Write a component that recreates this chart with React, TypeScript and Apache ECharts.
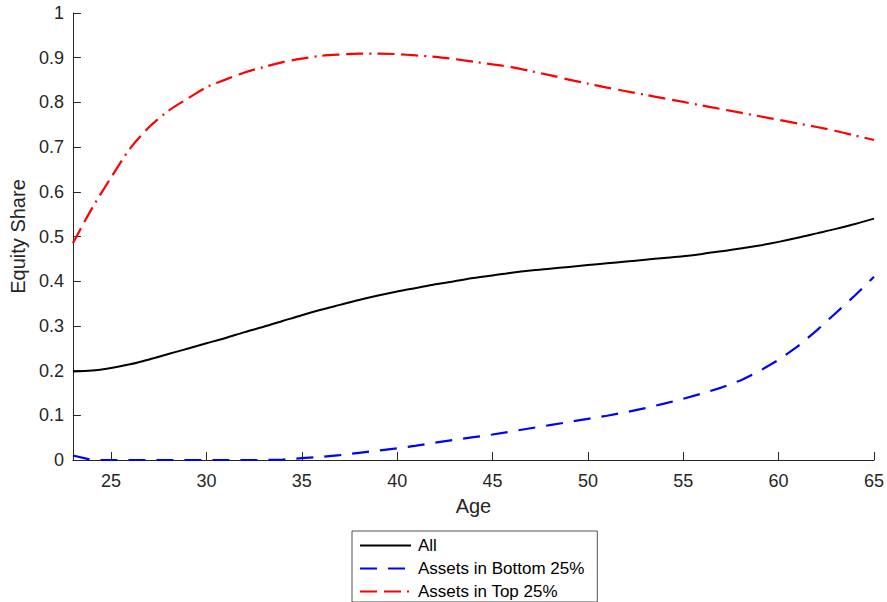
import React, { useEffect, useRef } from 'react';
import * as echarts from 'echarts';

const ages = [
  23, 24, 25, 26, 27, 28, 29, 30, 31, 32, 33, 34, 35, 36, 37, 38, 39, 40, 41, 42, 43, 44,
  45, 46, 47, 48, 49, 50, 51, 52, 53, 54, 55, 56, 57, 58, 59, 60, 61, 62, 63, 64, 65,
];

const allShare = [
  0.198, 0.2, 0.206, 0.214, 0.225, 0.237, 0.249, 0.261, 0.273, 0.286, 0.298, 0.311, 0.324,
  0.336, 0.347, 0.358, 0.368, 0.377, 0.385, 0.393, 0.4, 0.407, 0.413, 0.419, 0.424, 0.428,
  0.432, 0.436, 0.44, 0.444, 0.448, 0.452, 0.456, 0.461, 0.467, 0.473, 0.48, 0.488, 0.497,
  0.507, 0.517, 0.528, 0.54,
];

const bottomShare = [
  0.01, 0.0, 0.0, 0.0, 0.0, 0.0, 0.0, 0.0, 0.0, 0.0, 0.0, 0.001, 0.004, 0.007, 0.011, 0.016,
  0.021, 0.026, 0.032, 0.039, 0.045, 0.051, 0.057, 0.064, 0.071, 0.078, 0.085, 0.092, 0.099,
  0.107, 0.116, 0.126, 0.137, 0.149, 0.162, 0.178, 0.199, 0.224, 0.254, 0.29, 0.329, 0.368,
  0.41,
];

const topShare = [
  0.485, 0.563, 0.632, 0.697, 0.745, 0.781, 0.808, 0.834, 0.851, 0.867, 0.879, 0.89, 0.898,
  0.904, 0.907, 0.909, 0.909, 0.908, 0.905, 0.902, 0.897, 0.891, 0.885, 0.879, 0.87, 0.861,
  0.851, 0.842, 0.833, 0.825, 0.817, 0.809, 0.801, 0.793, 0.785, 0.777, 0.769, 0.761, 0.753,
  0.745, 0.736, 0.726, 0.716,
];

const xTicks = [25, 30, 35, 40, 45, 50, 55, 60, 65];

const axisColor = '#262626';
const font = 'Liberation Sans, Arial, sans-serif';

const pairs = (vals: number[]) => ages.map((a, i) => [a, vals[i]]);

const App = () => {
  const chartRef = useRef(null);

  useEffect(() => {
    const chart = echarts.init(chartRef.current, null, { renderer: 'svg' });

    chart.setOption({
      animation: false,
      backgroundColor: '#fff',
      textStyle: { fontFamily: font },
      grid: { left: 71, right: 13, top: 13, bottom: 142, containLabel: false },
      legend: {
        orient: 'vertical',
        left: 352,
        top: 531,
        height: 66,
        padding: [6, 13, 2, 7],
        itemWidth: 51,
        itemHeight: 14,
        itemGap: 6,
        borderColor: axisColor,
        borderWidth: 0.8,
        itemStyle: { opacity: 0 },
        textStyle: { fontSize: 17, lineHeight: 14, color: '#000', fontFamily: font, padding: [0, 0, 0, 2] },
        data: ['All', 'Assets in Bottom 25%', 'Assets in Top 25%'],
      },
      xAxis: {
        type: 'value',
        min: 23,
        max: 65,
        name: 'Age',
        nameLocation: 'middle',
        nameGap: 36,
        nameTextStyle: { fontSize: 20, color: axisColor, fontFamily: font },
        axisLine: { lineStyle: { color: axisColor, width: 1 } },
        axisTick: { inside: true, length: 8, customValues: xTicks, lineStyle: { color: axisColor } },
        axisLabel: { customValues: xTicks, fontSize: 18, color: axisColor, margin: 12, fontFamily: font },
        splitLine: { show: false },
      },
      yAxis: {
        type: 'value',
        min: 0,
        max: 1,
        interval: 0.1,
        name: 'Equity Share',
        nameLocation: 'middle',
        nameGap: 42,
        nameTextStyle: { fontSize: 20, color: axisColor, fontFamily: font },
        axisLine: { show: true, lineStyle: { color: axisColor, width: 1 } },
        axisTick: { show: true, inside: true, length: 8, lineStyle: { color: axisColor } },
        axisLabel: { fontSize: 18, color: axisColor, margin: 9, fontFamily: font },
        splitLine: { show: false },
      },
      series: [
        {
          name: 'All',
          type: 'line',
          data: pairs(allShare),
          showSymbol: false,
          symbol: 'none',
          smooth: 0.3,
          lineStyle: { color: '#000', width: 2 },
          itemStyle: { color: '#000' },
        },
        {
          name: 'Assets in Bottom 25%',
          type: 'line',
          data: pairs(bottomShare),
          showSymbol: false,
          symbol: 'none',
          lineStyle: { color: '#0000ff', width: 2.2, type: [17, 11] },
          itemStyle: { color: '#0000ff' },
        },
        {
          name: 'Assets in Top 25%',
          type: 'line',
          data: pairs(topShare),
          showSymbol: false,
          symbol: 'none',
          smooth: 0.3,
          lineStyle: { color: '#ff0000', width: 2.2, type: [17, 7, 17, 6, 2, 6] },
          itemStyle: { color: '#ff0000' },
        },
      ],
    });

    return () => {
      chart.dispose();
    };
  }, []);

  return (
    <div
      ref={chartRef}
      style={{ position: 'absolute', left: 0, top: 0, width: '887px', height: '602px' }}
    />
  );
};

export default App;
